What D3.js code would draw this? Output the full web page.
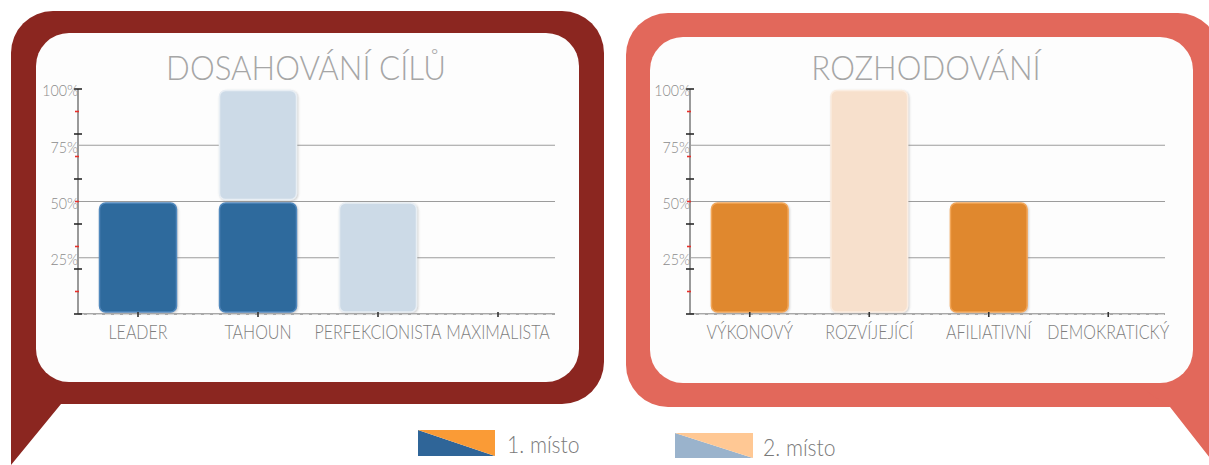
<!DOCTYPE html>
<html>
<head>
<meta charset="utf-8">
<script src="https://cdn.jsdelivr.net/npm/d3@7"></script>
<style>
  html, body { margin: 0; padding: 0; background: #fff; }
  svg { display: block; }
  text { font-family: Lato, "Open Sans", sans-serif; font-weight: 300; }
</style>
</head>
<body>
<svg id="chart" width="1209" height="465"></svg>
<script>
// ---- data ----
const goalTitle = "DOSAHOVÁNÍ CÍLŮ";
const goalCategories = ["LEADER", "TAHOUN", "PERFEKCIONISTA", "MAXIMALISTA"];
const goalFirst = [50, 50, 0, 0];     // 1. místo (%)
const goalSecond = [0, 50, 50, 0];    // 2. místo (%)

const decisionTitle = "ROZHODOVÁNÍ";
const decisionCategories = ["VÝKONOVÝ", "ROZVÍJEJÍCÍ", "AFILIATIVNÍ", "DEMOKRATICKÝ"];
const decisionFirst = [50, 0, 50, 0];
const decisionSecond = [0, 100, 0, 0];

const yLabelTicks = [25, 50, 75, 100];
const yMinorTicks = [0, 10, 20, 30, 40, 50, 60, 70, 80, 90, 100];
const legendLabels = ["1. místo", "2. místo"];

// ---- layout / styling ----
const svg = d3.select("#chart");

const defs = svg.append("defs");
defs.append("filter").attr("id", "barShadow")
  .attr("x", "-10%").attr("y", "-10%").attr("width", "130%").attr("height", "130%")
  .append("feDropShadow")
  .attr("dx", 1).attr("dy", 1).attr("stdDeviation", 0.8)
  .attr("flood-color", "#777").attr("flood-opacity", 0.35);

const panels = [
  {
    title: goalTitle, cats: goalCategories, first: goalFirst, second: goalSecond,
    frameColor: "#8B2620",
    outer: [11, 11, 604, 404], inner: [36, 33, 579, 382],
    tail: [[11, 360], [11, 465], [61, 404], [110, 404], [110, 360]],
    plotX: [78, 558], titleX: 306,
    fill1: "#2F6A9D", stroke1: "#5088BD",
    fill2: "#CCDAE7", stroke2: "#E8EEF4"
  },
  {
    title: decisionTitle, cats: decisionCategories, first: decisionFirst, second: decisionSecond,
    frameColor: "#E2685B",
    outer: [626, 13, 1220, 407], inner: [650, 37, 1193, 383],
    tail: [[1130, 380], [1170, 407], [1214, 463], [1240, 463], [1240, 380]],
    plotX: [690, 1168], titleX: 926,
    fill1: "#E0882F", stroke1: "#F2A658",
    fill2: "#F7E0CC", stroke2: "#FBEDE1"
  }
];

const y = d3.scaleLinear().domain([0, 100]).range([314, 89]);

function condensed(sel, x, yPos, sx) {
  return sel.attr("transform", `translate(${x},${yPos}) scale(${sx},1)`);
}

panels.forEach(p => {
  const g = svg.append("g");

  // speech-bubble frame
  const [ox0, oy0, ox1, oy1] = p.outer;
  g.append("rect").attr("x", ox0).attr("y", oy0)
    .attr("width", ox1 - ox0).attr("height", oy1 - oy0)
    .attr("rx", 42).attr("fill", p.frameColor);
  g.append("path").attr("d", d3.line()(p.tail) + "Z").attr("fill", p.frameColor);
  const [ix0, iy0, ix1, iy1] = p.inner;
  g.append("rect").attr("x", ix0).attr("y", iy0)
    .attr("width", ix1 - ix0).attr("height", iy1 - iy0)
    .attr("rx", 33).attr("fill", "#FDFDFD");

  // title
  condensed(g.append("text"), p.titleX, 80, 0.92)
    .attr("text-anchor", "middle")
    .attr("font-size", 34)
    .attr("fill", "#A6A6A6")
    .text(p.title);

  const x = d3.scaleBand().domain(p.cats).range(p.plotX)
    .paddingInner(0.35).paddingOuter(0.175);
  const ax = p.plotX[0];

  // gridlines
  g.append("g").selectAll("line").data([25, 50, 75]).join("line")
    .attr("x1", ax).attr("x2", p.plotX[1] - 3)
    .attr("y1", d => y(d)).attr("y2", d => y(d))
    .attr("stroke", "#9C9C9C").attr("stroke-width", 1.2);

  // stacked bars
  const rows = p.cats.map((c, i) => ({ cat: c, first: p.first[i], second: p.second[i] }));
  const stack = d3.stack().keys(["first", "second"])(rows);
  const styles = { first: [p.fill1, p.stroke1], second: [p.fill2, p.stroke2] };
  stack.forEach(layer => {
    g.append("g").selectAll("rect")
      .data(layer.filter(d => d[1] > d[0]))
      .join("rect")
      .attr("x", d => x(d.data.cat) + 0.5)
      .attr("width", x.bandwidth() - 1)
      .attr("y", d => y(d[1]) + 1.5)
      .attr("height", d => y(d[0]) - y(d[1]) - 3.5)
      .attr("rx", 6)
      .attr("fill", styles[layer.key][0])
      .attr("stroke", styles[layer.key][1])
      .attr("stroke-width", 1.5)
      .attr("filter", "url(#barShadow)");
  });

  // baseline
  g.append("line")
    .attr("x1", ax).attr("x2", p.plotX[1] - 3)
    .attr("y1", y(0)).attr("y2", y(0))
    .attr("stroke", "#A8A8A8").attr("stroke-width", 2);
  g.append("line")
    .attr("x1", ax).attr("x2", p.plotX[1] - 3)
    .attr("y1", y(0) + 0.5).attr("y2", y(0) + 0.5)
    .attr("stroke", "#D8D8D8").attr("stroke-width", 1)
    .attr("stroke-dasharray", "6 3");

  // x axis
  const xAxis = g.append("g").attr("transform", `translate(0,${y(0) - 2})`)
    .call(d3.axisBottom(x).tickSize(5).tickPadding(8));
  xAxis.select(".domain").remove();
  xAxis.selectAll(".tick line").attr("stroke", "#333").attr("stroke-width", 1.6);
  xAxis.selectAll(".tick text")
    .attr("font-size", 20)
    .attr("font-family", "Lato, 'Open Sans', sans-serif")
    .attr("fill", "#7E7E7E")
    .attr("transform", "scale(0.8,1)");

  // y axis line
  g.append("line")
    .attr("x1", ax).attr("x2", ax)
    .attr("y1", y(0)).attr("y2", y(100))
    .attr("stroke", "#9A9A9A").attr("stroke-width", 2);

  // minor ticks: black at even steps, red between
  g.append("g").selectAll("line").data(yMinorTicks).join("line")
    .attr("x1", d => d % 20 === 0 ? ax - 4 : ax - 3)
    .attr("x2", d => d % 20 === 0 ? ax + 4 : ax + 1)
    .attr("y1", d => y(d)).attr("y2", d => y(d))
    .attr("stroke", d => d % 20 === 0 ? "#2A2A2A" : "#E8302A")
    .attr("stroke-width", 1.6);

  // y labels
  const yAxis = g.append("g").attr("transform", `translate(${ax},0)`)
    .call(d3.axisLeft(y).tickValues(yLabelTicks).tickSize(0).tickPadding(0)
      .tickFormat(d => d + "%"));
  yAxis.select(".domain").remove();
  yAxis.selectAll(".tick text")
    .attr("font-size", 15)
    .attr("dy", "0.45em")
    .attr("font-family", "Lato, 'Open Sans', sans-serif")
    .attr("fill", "#8C8C8C")
    .attr("transform", "scale(0.95,1)");
});

// ---- legend ----
const legend = [
  { label: legendLabels[0], a: "#2F6598", b: "#FA9B36", box: [418, 430, 77, 26], tx: 507, ty: 453 },
  { label: legendLabels[1], a: "#9AB3CC", b: "#FFC894", box: [675, 433, 78, 25], tx: 763, ty: 456 }
];
legend.forEach(l => {
  const [bx, by, bw, bh] = l.box;
  const lg = svg.append("g");
  lg.append("path")
    .attr("d", `M${bx},${by}L${bx + bw},${by + bh}L${bx},${by + bh}Z`)
    .attr("fill", l.a);
  lg.append("path")
    .attr("d", `M${bx},${by}L${bx + bw},${by}L${bx + bw},${by + bh}Z`)
    .attr("fill", l.b);
  condensed(lg.append("text"), l.tx, l.ty, 0.88)
    .attr("font-size", 24)
    .attr("fill", "#7A7A7A")
    .text(l.label);
});
</script>
</body>
</html>
